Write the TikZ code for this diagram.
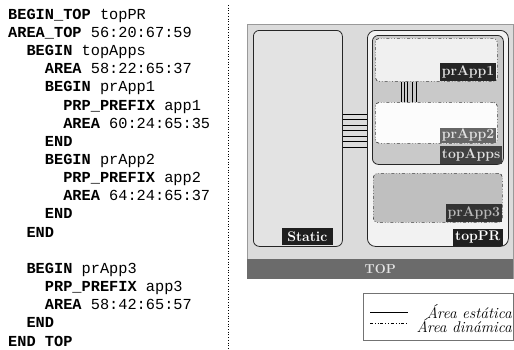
\documentclass[tikz,border=0pt]{standalone}
\usepackage{fontspec}
\newfontfamily\codefont{Liberation Mono}
\usetikzlibrary{positioning}
\newcommand{\kw}[1]{\textbf{#1}}
\tikzset{
    code/.style={anchor=base west, inner sep=0pt, font=\codefont\fontsize{15.3}{18}\selectfont},
    region/.style={rectangle, draw=black!85, line width=0.8pt, rounded corners=6pt, anchor=north west},
    dyn/.style={rectangle, draw=black!75, line width=0.7pt, dash dot dot, rounded corners=4pt, anchor=north west},
    tag/.style={rectangle, anchor=south east, inner xsep=1.5pt, inner ysep=0pt, minimum height=17pt, text=black!12, font=\bfseries\fontsize{14}{14}\selectfont},
    legtext/.style={anchor=east, inner sep=0pt, font=\itshape\fontsize{15.5}{16}\selectfont},
}
\begin{document}
\begin{tikzpicture}[x=1pt, y=-1pt]
    \useasboundingbox (0,0) rectangle (514,349);
    % listing
    \foreach \i/\ind/\txt in {1/0/{\kw{BEGIN\_TOP} topPR},
                              2/0/{\kw{AREA\_TOP} 56:20:67:59},
                              3/2/{\kw{BEGIN} topApps},
                              4/4/{\kw{AREA} 58:22:65:37},
                              5/4/{\kw{BEGIN} prApp1},
                              6/6/{\kw{PRP\_PREFIX} app1},
                              7/6/{\kw{AREA} 60:24:65:35},
                              8/4/{\kw{END}},
                              9/4/{\kw{BEGIN} prApp2},
                              10/6/{\kw{PRP\_PREFIX} app2},
                              11/6/{\kw{AREA} 64:24:65:37},
                              12/4/{\kw{END}},
                              13/2/{\kw{END}},
                              15/2/{\kw{BEGIN} prApp3},
                              16/4/{\kw{PRP\_PREFIX} app3},
                              17/4/{\kw{AREA} 58:42:65:57},
                              18/2/{\kw{END}},
                              19/0/{\kw{END TOP}}}
        \node [code] (line\i) at ({8+9.18*\ind}, {19.3+18.15*(\i-1)}) {\txt};
    \coordinate (sepA) at (228.5,5);
    \coordinate (sepB) at (228.5,349);
    \draw [dotted, line width=0.7pt] (sepA) -- (sepB);
    % floorplan
    \node [rectangle, draw=black!40, line width=1.2pt, fill=black!14, anchor=north west, minimum width=266pt, minimum height=254pt] (top) at (247,24) {};
    \node [rectangle, fill=black!58, anchor=south west, minimum width=266pt, minimum height=20pt, text=black!10, font=\bfseries\fontsize{13}{13}\selectfont] (topbar) at (top.south west) {TOP};
    \node [region, fill=black!11, minimum width=89pt, minimum height=216pt] (static) at (253,30) {};
    \node [region, fill=black!5, rounded corners=8pt, minimum width=141pt, minimum height=216pt] (topPR) at (367,30) {};
    \node [region, fill=black!21, minimum width=131pt, minimum height=129pt] (topApps) at (372,35) {};
    \node [dyn, fill=black!6, minimum width=122pt, minimum height=43pt] (prApp1) at (375,38) {};
    \node [dyn, fill=black!1, minimum width=122pt, minimum height=41pt] (prApp2) at (375,102) {};
    \node [dyn, fill=black!25, minimum width=129pt, minimum height=49pt] (prApp3) at (373,173) {};
    % tags
    \node [tag, fill=black!88, text=white, minimum width=51pt] (staticTag) at (333,245.5) {Static};
    \node [tag, fill=black!88, text=white, minimum width=50pt] (topPRTag) at (503,246) {topPR};
    \node [tag, fill=black!80, text=black!28, minimum height=18pt, minimum width=56pt] (prApp3Tag) at (502,222) {prApp3};
    \node [tag, fill=black!75, minimum height=18pt, minimum width=59pt] (topAppsTag) at (502,164) {topApps};
    \node [tag, fill=black!60, minimum height=15pt, minimum width=53pt] (prApp2Tag) at (496,143) {prApp2};
    \node [tag, fill=black!85, minimum height=18pt, minimum width=53pt] (prApp1Tag) at (496,81) {prApp1};
    % buses
    \foreach \by in {84,89.5,...,117}
        \draw [line width=0.8pt] ([yshift=-\by pt]static.north east) -- ([yshift=-\by pt]static.north east -| topPR.west);
    \foreach \bx in {26,29,32,37,41}
        \draw [line width=0.7pt] ([xshift=\bx pt]prApp1.south west) -- ([xshift=\bx pt]prApp1.south west |- prApp2.north);
    % legend
    \node [rectangle, draw=black!55, line width=0.8pt, fill=white, anchor=north west, minimum width=150pt, minimum height=47pt] (legend) at (363,293) {};
    \coordinate (solidA) at (370,312);
    \coordinate (solidB) at (408,312);
    \coordinate (dynA) at (370,323);
    \coordinate (dynB) at (408,323);
    \draw [line width=0.7pt] (solidA) -- (solidB);
    \draw [line width=0.7pt, dash dot dot] (dynA) -- (dynB);
    \node [legtext] (staticText) at (512,312) {Área estática};
    \node [legtext] (dynText) at (512,326) {Área dinámica};
\end{tikzpicture}
\end{document}
